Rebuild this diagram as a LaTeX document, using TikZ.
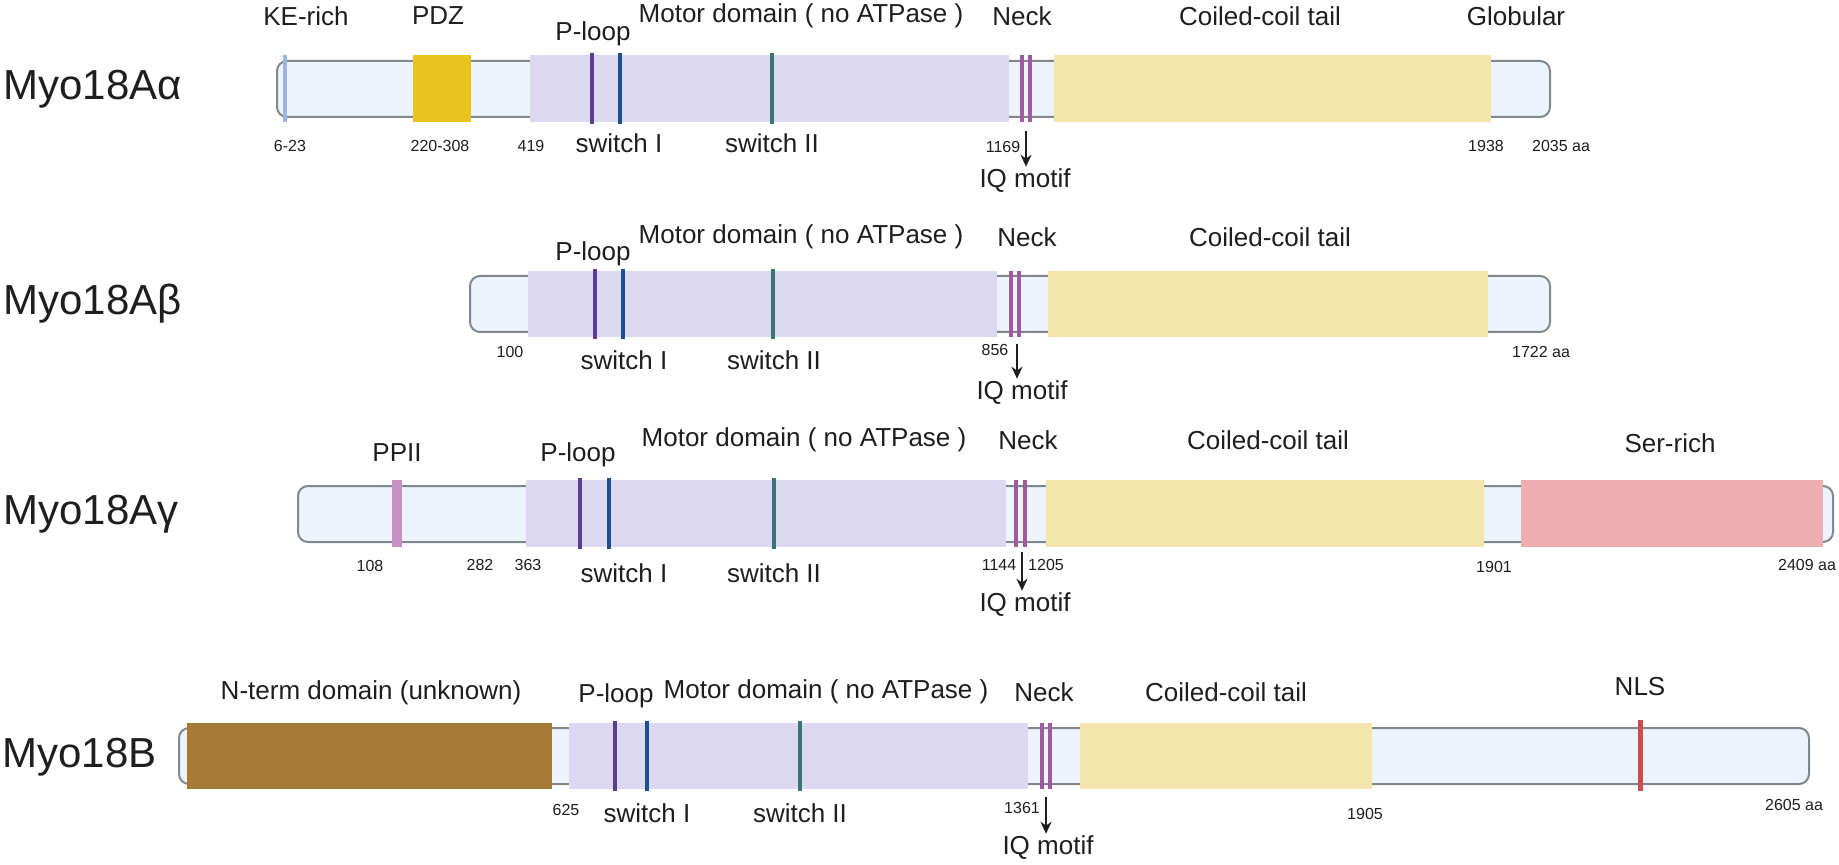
\documentclass[tikz,border=0pt]{standalone}
\usepackage{fontspec}
\setmainfont{Liberation Sans}
\usetikzlibrary{arrows.meta}
\definecolor{txt}{HTML}{1E1E1E}
\definecolor{barline}{HTML}{80878D}
\definecolor{barfill}{HTML}{EDF3FB}
\definecolor{motorc}{HTML}{DCD8F1}
\definecolor{pdzc}{HTML}{E9C41F}
\definecolor{coilc}{HTML}{F3E5AB}
\definecolor{serc}{HTML}{EEADAE}
\definecolor{ntermc}{HTML}{A87A38}
\definecolor{kec}{HTML}{9CB4E0}
\definecolor{ploopc}{HTML}{5A3F8E}
\definecolor{swonec}{HTML}{1E4E8C}
\definecolor{swtwoc}{HTML}{3C7473}
\definecolor{neckc}{HTML}{A05A9F}
\definecolor{ppiic}{HTML}{C690C4}
\definecolor{nlsc}{HTML}{C94F4F}
\begin{document}
\begin{tikzpicture}[x=0.5pt,y=-0.5pt,
    bar/.style={draw=barline,fill=barfill,line width=1pt,rounded corners=5pt},
    lbl/.style={font=\fontsize{13}{15}\selectfont,text=txt,inner sep=1pt},
    num/.style={font=\fontsize{8}{10}\selectfont,text=txt,inner sep=1pt},
    ttl/.style={font=\fontsize{21}{25}\selectfont,text=txt,anchor=west,inner sep=0pt},
    motif/.style={line width=2.4pt},
    iq/.style={-{Stealth[length=6pt,width=5.5pt]},line width=1pt,draw=txt}]
\useasboundingbox (0,0) rectangle (1839,865);

% Myo18A alpha
\node[ttl] (ta) at (3,89) {Myo18Aα};
\draw[bar] (277,61) rectangle (1550,117); % backbone
\draw[motif,kec,line width=2pt] (285,55) -- (285,122); % KE-rich
\fill[pdzc] (413,55) rectangle (471,122); % PDZ
\fill[motorc] (530,55) rectangle (1009,122); % motor
\draw[motif,ploopc] (592,53) -- (592,124);
\draw[motif,swonec] (620,53) -- (620,124);
\draw[motif,swtwoc] (772,53) -- (772,124);
\draw[motif,neckc] (1022,55) -- (1022,122);
\draw[motif,neckc] (1030,55) -- (1030,122);
\fill[coilc] (1054,55) rectangle (1491,122); % tail
\node[lbl] (kea) at (306,16) {KE-rich};
\node[lbl] (pdza) at (438,16) {PDZ};
\node[lbl] (pla) at (593,34) {P-loop};
\node[lbl] (mda) at (801,16) {Motor domain ( no ATPase )};
\node[lbl] (nea) at (1022,16) {Neck};
\node[lbl] (cca) at (1260,16) {Coiled-coil tail};
\node[lbl] (gla) at (1516,16) {Globular};
\node[num] (n1a) at (290,146) {6-23};
\node[num] (n2a) at (440,146) {220-308};
\node[num] (n3a) at (531,146) {419};
\node[num] (n4a) at (1003,147) {1169};
\node[num] (n5a) at (1486,146) {1938};
\node[num] (n6a) at (1561,146) {2035 aa};
\node[lbl] (s1a) at (619,143) {switch I};
\node[lbl] (s2a) at (772,143) {switch II};
\coordinate (ka) at (1026,131);
\node[lbl] (iqa) at (1025,181) {IQ motif};
\draw[iq] (ka) -- (ka |- iqa.north);

% Myo18A beta
\node[ttl] (tb) at (3,304) {Myo18Aβ};
\draw[bar] (470,276) rectangle (1550,332);
\fill[motorc] (528,271) rectangle (997,337);
\draw[motif,ploopc] (595,269) -- (595,339);
\draw[motif,swonec] (623,269) -- (623,339);
\draw[motif,swtwoc] (773,269) -- (773,339);
\draw[motif,neckc] (1011,271) -- (1011,337);
\draw[motif,neckc] (1019,271) -- (1019,337);
\fill[coilc] (1048,271) rectangle (1488,337);
\node[lbl] (plb) at (593,254) {P-loop};
\node[lbl] (mdb) at (801,237) {Motor domain ( no ATPase )};
\node[lbl] (neb) at (1027,237) {Neck};
\node[lbl] (ccb) at (1270,237) {Coiled-coil tail};
\node[num] (n1b) at (510,352) {100};
\node[num] (n2b) at (995,350) {856};
\node[num] (n3b) at (1541,352) {1722 aa};
\node[lbl] (s1b) at (624,360) {switch I};
\node[lbl] (s2b) at (774,360) {switch II};
\coordinate (kb) at (1017,344);
\node[lbl] (iqb) at (1022,393) {IQ motif};
\draw[iq] (kb) -- (kb |- iqb.north);

% Myo18A gamma
\node[ttl] (tg) at (3,514) {Myo18Aγ};
\draw[bar] (298,486) rectangle (1833,542);
\draw[motif,ppiic,line width=5pt] (397,480) -- (397,547); % PPII
\fill[motorc] (526,480) rectangle (1006,547);
\draw[motif,ploopc] (580,478) -- (580,549);
\draw[motif,swonec] (609,478) -- (609,549);
\draw[motif,swtwoc] (774,478) -- (774,549);
\draw[motif,neckc] (1016,480) -- (1016,547);
\draw[motif,neckc] (1025,480) -- (1025,547);
\fill[coilc] (1046,480) rectangle (1484,547);
\fill[serc] (1521,480) rectangle (1823,547); % Ser-rich
\node[lbl] (ppg) at (397,453) {PPII};
\node[lbl] (plg) at (578,455) {P-loop};
\node[lbl] (mdg) at (804,440) {Motor domain ( no ATPase )};
\node[lbl] (neg) at (1028,440) {Neck};
\node[lbl] (ccg) at (1268,440) {Coiled-coil tail};
\node[lbl] (srg) at (1670,443) {Ser-rich};
\node[num] (n1g) at (370,566) {108};
\node[num] (n2g) at (480,565) {282};
\node[num] (n3g) at (528,565) {363};
\node[num] (n4g) at (999,565) {1144};
\node[num] (n5g) at (1046,565) {1205};
\node[num] (n6g) at (1494,567) {1901};
\node[num] (n7g) at (1807,565) {2409 aa};
\node[lbl] (s1g) at (624,573) {switch I};
\node[lbl] (s2g) at (774,573) {switch II};
\coordinate (kg) at (1022,552);
\node[lbl] (iqg) at (1025,605) {IQ motif};
\draw[iq] (kg) -- (kg |- iqg.north);

% Myo18B
\node[ttl] (tm) at (2,757) {Myo18B};
\draw[bar] (179,728) rectangle (1809,784);
\fill[ntermc] (187,723) rectangle (552,789); % N-term domain
\fill[motorc] (569,723) rectangle (1028,789);
\draw[motif,ploopc] (615,721) -- (615,791);
\draw[motif,swonec] (647,721) -- (647,791);
\draw[motif,swtwoc] (800,721) -- (800,791);
\draw[motif,neckc] (1042,723) -- (1042,789);
\draw[motif,neckc] (1050,723) -- (1050,789);
\fill[coilc] (1080,723) rectangle (1372,789);
\draw[motif,nlsc,line width=2.5pt] (1640,720) -- (1640,791); % NLS
\node[lbl] (ntm) at (371,693) {N-term domain (unknown)};
\node[lbl] (plm) at (616,696) {P-loop};
\node[lbl] (mdm) at (826,692) {Motor domain ( no ATPase )};
\node[lbl] (nem) at (1044,692) {Neck};
\node[lbl] (ccm) at (1226,692) {Coiled-coil tail};
\node[lbl] (nlm) at (1640,687) {NLS};
\node[num] (n1m) at (566,810) {625};
\node[num] (n2m) at (1022,808) {1361};
\node[num] (n3m) at (1365,814) {1905};
\node[num] (n4m) at (1794,805) {2605 aa};
\node[lbl] (s1m) at (647,813) {switch I};
\node[lbl] (s2m) at (800,813) {switch II};
\coordinate (km) at (1046,797);
\node[lbl] (iqm) at (1048,848) {IQ motif};
\draw[iq] (km) -- (km |- iqm.north);
\end{tikzpicture}
\end{document}
